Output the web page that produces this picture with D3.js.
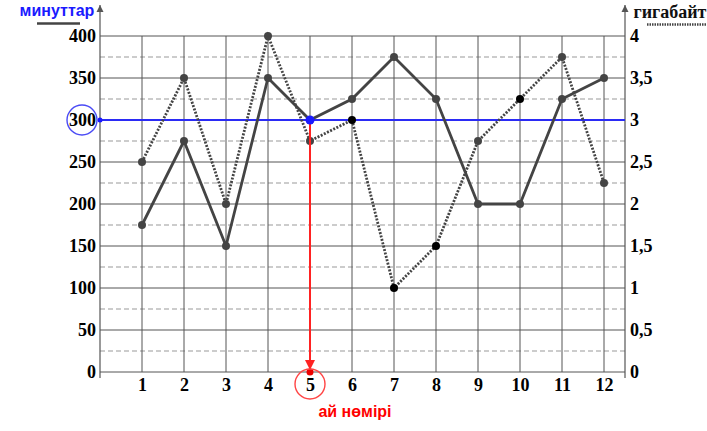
<!DOCTYPE html>
<html><head><meta charset="utf-8">
<script src="https://cdn.jsdelivr.net/npm/d3@7"></script>
<style>body{margin:0;background:#fff}svg{display:block}</style>
</head><body>
<script>
const months = [1,2,3,4,5,6,7,8,9,10,11,12];
const minutes = [175,275,150,350,300,325,375,325,200,200,325,350];
const gigabytes = [2.5,3.5,2,4,2.75,3,1,1.5,2.75,3.25,3.75,2.25];
const gbBlackMarkers = [6,7,8,10];
const leftTicks = [0,50,100,150,200,250,300,350,400];
const rightTicks = [0,0.5,1,1.5,2,2.5,3,3.5,4];
const rightTickLabels = ["0","0,5","1","1,5","2","2,5","3","3,5","4"];
const minorTicks = [25,75,125,175,225,275,325,375];
const highlightMonth = 5;
const highlightMinutes = 300;
const leftTitle = "минуттар";
const rightTitle = "гигабайт";
const xTitle = "ай нөмірі";

const W=707,H=431;
const svg=d3.select("body").append("svg").attr("width",W).attr("height",H);
const x=d3.scaleLinear().domain([0,12.5]).range([100,625]);
const y=d3.scaleLinear().domain([0,400]).range([372,36]);
const y2=d3.scaleLinear().domain([0,4]).range([372,36]);
const serif="'Liberation Serif','Times New Roman',serif";
const sans="'Liberation Sans',Arial,sans-serif";
const defs=svg.append("defs");
defs.append("marker").attr("id","ah").attr("viewBox","0 0 10 10").attr("refX",10).attr("refY",5)
 .attr("markerWidth",6).attr("markerHeight",6).attr("orient","auto-start-reverse")
 .append("path").attr("d","M0,0L10,5L0,10z").attr("fill","#555");
defs.append("marker").attr("id","rh").attr("viewBox","0 0 10 10").attr("refX",10).attr("refY",5)
 .attr("markerWidth",5).attr("markerHeight",5).attr("orient","auto")
 .append("path").attr("d","M0,0L10,5L0,10z").attr("fill","#f22");

// grid
const g=svg.append("g");
g.selectAll(".mn").data(minorTicks).join("line").attr("x1",x(0)).attr("x2",x(12.5))
 .attr("y1",d=>y(d)).attr("y2",d=>y(d)).attr("stroke","#999").attr("stroke-dasharray","5,3").attr("stroke-width",1);
g.selectAll(".mj").data(leftTicks).join("line").attr("x1",x(0)).attr("x2",x(12.5))
 .attr("y1",d=>y(d)).attr("y2",d=>y(d)).attr("stroke","#555").attr("stroke-width",1);
g.selectAll(".vg").data(months).join("line").attr("x1",d=>x(d)).attr("x2",d=>x(d))
 .attr("y1",y(400)).attr("y2",y(0)).attr("stroke","#555").attr("stroke-width",1);

// axes
svg.append("line").attr("x1",x(0)).attr("x2",x(0)).attr("y1",378).attr("y2",5)
 .attr("stroke","#555").attr("stroke-width",1.2).attr("marker-end","url(#ah)");
svg.append("line").attr("x1",x(12.5)).attr("x2",x(12.5)).attr("y1",378).attr("y2",5)
 .attr("stroke","#555").attr("stroke-width",1.2).attr("marker-end","url(#ah)");

const la=svg.append("g").attr("transform",`translate(${x(0)-4},0)`)
 .call(d3.axisLeft(y).tickValues(leftTicks).tickSize(0).tickPadding(0).tickFormat(d3.format("d")));
la.select(".domain").remove();
la.selectAll("text").attr("font-family",serif).attr("font-weight","bold").attr("font-size",18).attr("fill","#000").attr("dy","0.33em");
const ra=svg.append("g").attr("transform",`translate(${x(12.5)+5},0)`)
 .call(d3.axisRight(y2).tickValues(rightTicks).tickSize(0).tickPadding(0).tickFormat((d,i)=>rightTickLabels[i]));
ra.select(".domain").remove();
ra.selectAll("text").attr("font-family",serif).attr("font-weight","bold").attr("font-size",18).attr("fill","#000").attr("dy","0.33em");
const ba=svg.append("g").attr("transform",`translate(0,${y(0)})`)
 .call(d3.axisBottom(x).tickValues(months).tickSize(0).tickPadding(6).tickFormat(d3.format("d")));
ba.select(".domain").remove();
ba.selectAll("text").attr("font-family",serif).attr("font-weight","bold").attr("font-size",18).attr("fill","#000").attr("dy","0.71em");

// blue line
svg.append("line").attr("x1",x(0)).attr("x2",x(12.5)).attr("y1",y(highlightMinutes)).attr("y2",y(highlightMinutes))
 .attr("stroke","#2b2bf5").attr("stroke-width",2);

const ptsM=months.map((m,i)=>[m,minutes[i]]);
const ptsG=months.map((m,i)=>[m,gigabytes[i]]);
svg.append("path").datum(ptsM).attr("d",d3.line().x(d=>x(d[0])).y(d=>y(d[1])))
 .attr("fill","none").attr("stroke","#444").attr("stroke-width",2.8);
svg.append("path").datum(ptsG).attr("d",d3.line().x(d=>x(d[0])).y(d=>y2(d[1])))
 .attr("fill","none").attr("stroke","#444").attr("stroke-width",2.8).attr("stroke-dasharray","2,1.5");
svg.selectAll(".pm").data(ptsM).join("circle").attr("cx",d=>x(d[0])).attr("cy",d=>y(d[1])).attr("r",4).attr("fill","#444");
svg.selectAll(".pg").data(ptsG).join("circle").attr("cx",d=>x(d[0])).attr("cy",d=>y2(d[1])).attr("r",4)
 .attr("fill",d=>gbBlackMarkers.includes(d[0])?"#000":"#444");

// red arrow
svg.append("line").attr("x1",x(highlightMonth)).attr("x2",x(highlightMonth)).attr("y1",y(highlightMinutes)).attr("y2",y(0)-2)
 .attr("stroke","#f22").attr("stroke-width",2).attr("marker-end","url(#rh)");
svg.append("circle").attr("cx",x(highlightMonth)).attr("cy",y(0)).attr("r",3.5).attr("fill","#e00");
svg.append("circle").attr("cx",x(highlightMonth)).attr("cy",y(0)+12).attr("r",15).attr("fill","none").attr("stroke","#f44").attr("stroke-width",1.4);
// blue markers
svg.append("circle").attr("cx",x(highlightMonth)).attr("cy",y(highlightMinutes)).attr("r",4.5).attr("fill","#1a1aff");
svg.append("circle").attr("cx",x(0)).attr("cy",y(highlightMinutes)).attr("r",2.5).attr("fill","#1a1aff");
svg.append("circle").attr("cx",82).attr("cy",y(highlightMinutes)).attr("r",15).attr("fill","none").attr("stroke","#4a4af5").attr("stroke-width",1.4);

// titles
svg.append("text").attr("x",57).attr("y",16).attr("text-anchor","middle").attr("font-family",sans).attr("font-weight","bold")
 .attr("font-size",16).attr("fill","#1a1aff").text(leftTitle);
svg.append("line").attr("x1",37).attr("x2",80).attr("y1",23.5).attr("y2",23.5).attr("stroke","#444").attr("stroke-width",2.5);
svg.append("text").attr("x",670).attr("y",18).attr("text-anchor","middle").attr("font-family",serif).attr("font-weight","bold")
 .attr("font-size",18).attr("fill","#111").text(rightTitle);
svg.append("line").attr("x1",647).attr("x2",707).attr("y1",24.5).attr("y2",24.5).attr("stroke","#444").attr("stroke-width",2.5).attr("stroke-dasharray","1.5,1");
svg.append("text").attr("x",355).attr("y",417).attr("text-anchor","middle").attr("font-family",sans).attr("font-weight","bold")
 .attr("font-size",16).attr("fill","#f00").text(xTitle);
</script>
</body></html>
